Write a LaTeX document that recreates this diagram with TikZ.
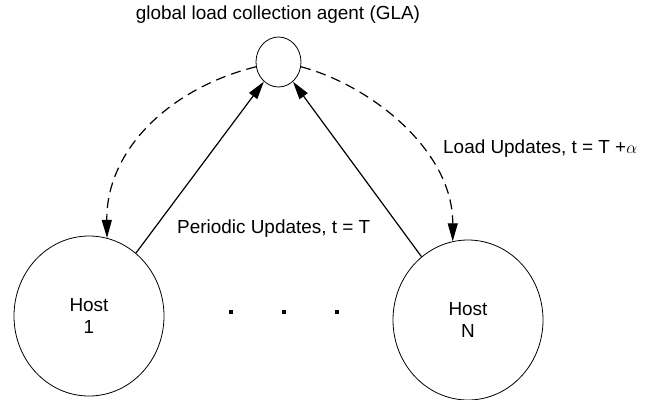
\documentclass[tikz,border=0pt]{standalone}
\usepackage{fontspec}
\setmainfont{Liberation Sans}
\usetikzlibrary{shapes.geometric,arrows.meta}
\begin{document}
\begin{tikzpicture}[x=1bp,y=-1bp,
  hostnode/.style={draw, ellipse, line width=0.8bp, inner sep=0pt,
    minimum width=150bp, minimum height=160bp, align=center,
    font=\fontsize{19}{22}\selectfont},
  agentnode/.style={draw, ellipse, line width=0.8bp, inner sep=0pt,
    minimum width=45bp, minimum height=50bp},
  lbl/.style={inner sep=0pt, font=\fontsize{19}{22}\selectfont},
  tip/.style={-{Triangle[length=18bp,width=10bp]}},
  update/.style={tip, line width=1.2bp},
  feedback/.style={tip, line width=1.2bp, dash pattern=on 10bp off 6bp},
  dotmark/.style={fill=black, inner sep=0pt, minimum size=4bp}
]
\useasboundingbox (0,0) rectangle (646,399);

% agent and hosts
\node[agentnode] (gla) at (278.5,62) {};
\node[hostnode] (h1) at (89,316) {Host\\1};
\node[hostnode] (hN) at (468,320) {Host\\N};

% ellipsis between the hosts
\node[dotmark] (d1) at (231,312) {};
\node[dotmark] (d2) at (284,312) {};
\node[dotmark] (d3) at (337,312) {};

% periodic updates from the hosts to the agent
\draw[update] (h1) -- (gla);
\draw[update] (hN) -- (gla);

% load updates sent back to the hosts
\draw[feedback] (gla.192) .. controls (170,88) and (106,150) .. (h1.77);
\draw[feedback] (gla.-12) .. controls (370,85) and (453,150) .. (hN.101);

% labels
\node[lbl, anchor=base] (title) at (278,19) {global load collection agent (GLA)};
\node[lbl, anchor=base west] (periodic) at (177,233) {Periodic Updates, t = T};
\node[lbl, anchor=base west] (load) at (443,153) {Load Updates, t = T +$\alpha$};
\end{tikzpicture}
\end{document}
